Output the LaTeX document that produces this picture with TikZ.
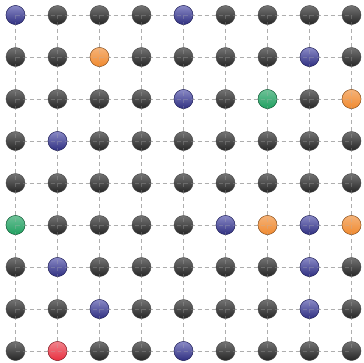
\documentclass[tikz,border=0pt]{standalone}
\begin{document}
\begin{tikzpicture}[x=1pt,y=-1pt,
  ball/.style={circle,minimum size=19pt,inner sep=0pt,line width=0.4pt},
  gball/.style={ball,draw=black!75,top color=black!55,bottom color=black!85},
  bball/.style={ball,draw=bluec!70!black,top color=bluec!60,bottom color=bluec!80!black},
  oball/.style={ball,draw=orangec!70!black,top color=orangec!65,bottom color=orangec},
  grball/.style={ball,draw=greenc!70!black,top color=greenc!65,bottom color=greenc},
  rball/.style={ball,draw=redc!70!black,top color=redc!60,bottom color=redc},
  gridline/.style={draw=black!32,line width=0.9pt,dash pattern=on 4pt off 3pt},
  overline/.style={draw=black!30,opacity=0.3,line width=0.8pt,dash pattern=on 4pt off 3pt}]
\definecolor{bluec}{HTML}{3B3BA0}
\definecolor{orangec}{HTML}{F08A30}
\definecolor{greenc}{HTML}{20A060}
\definecolor{redc}{HTML}{E83040}
\useasboundingbox (0,0) rectangle (364,362);
\foreach \i in {0,...,8}{
  \foreach \j in {0,...,8}{
    \coordinate (n-\i-\j) at ({15.5+42*\i},{15+42*\j});
  }
}
\foreach \k in {0,...,8}{
  \draw[gridline] (n-0-\k) -- (n-8-\k);
  \draw[gridline] (n-\k-0) -- (n-\k-8);
}
\foreach \i in {0,...,8}{
  \foreach \j in {0,...,8}{
    \node[gball] (b-\i-\j) at (n-\i-\j) {};
  }
}
% coloured balls
\foreach \i/\j/\s in {0/0/bball,4/0/bball,2/1/oball,7/1/bball,4/2/bball,6/2/grball,8/2/oball,
  1/3/bball,0/5/grball,5/5/bball,6/5/oball,7/5/bball,8/5/oball,1/6/bball,7/6/bball,
  2/7/bball,7/7/bball,1/8/rball,4/8/bball}{
  \node[\s] (c-\i-\j) at (n-\i-\j) {};
}
\foreach \k in {0,...,8}{
  \draw[overline] (n-0-\k) -- (n-8-\k);
  \draw[overline] (n-\k-0) -- (n-\k-8);
}
\end{tikzpicture}
\end{document}
